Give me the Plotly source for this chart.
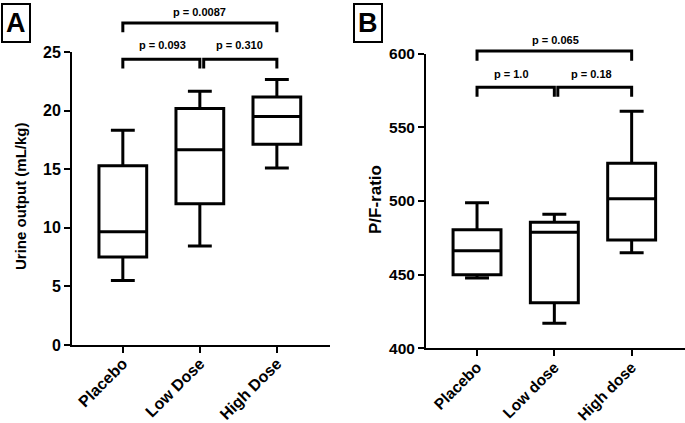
import plotly.graph_objects as go

# ---------------- data ----------------
cats_a = ["Placebo", "Low Dose", "High Dose"]
urine_min = [5.5, 8.45, 15.1]
urine_q1 = [7.5, 12.05, 17.13]
urine_med = [9.67, 16.65, 19.5]
urine_q3 = [15.3, 20.17, 21.15]
urine_max = [18.33, 21.65, 22.65]

cats_b = ["Placebo", "Low dose", "High dose"]
pf_min = [447.7, 417.0, 464.9]
pf_q1 = [450.0, 431.0, 473.5]
pf_med = [466.3, 478.7, 501.6]
pf_q3 = [480.5, 485.5, 525.6]
pf_max = [498.8, 491.0, 560.9]

pvals_a = ["p = 0.0087", "p = 0.093", "p = 0.310"]
pvals_b = ["p = 0.065", "p = 1.0", "p = 0.18"]

W, H = 685, 423
FONT = "Liberation Sans, Arial, sans-serif"

# domains (paper fractions)
xdomA = [72 / W, 330 / W]
ydomA = [1 - 345 / H, 1 - 52 / H]
xdomB = [426 / W, 1.0]
ydomB = [1 - 348.3 / H, 1 - 53.7 / H]
rngA = [0, 25]
rngB = [400, 600]
xr = [-0.66, 2.69]


def to_paper(v, rng, dom):
    return dom[0] + (v - rng[0]) / (rng[1] - rng[0]) * (dom[1] - dom[0])


fig = go.Figure()
for i in range(3):
    fig.add_trace(go.Box(
        x=[i], q1=[urine_q1[i]], median=[urine_med[i]], q3=[urine_q3[i]],
        lowerfence=[urine_min[i]], upperfence=[urine_max[i]],
        width=0.62, whiskerwidth=0.5, boxpoints=False,
        line=dict(color="black", width=3), fillcolor="white",
        xaxis="x", yaxis="y", showlegend=False, hoverinfo="skip"))
    fig.add_trace(go.Box(
        x=[i], q1=[pf_q1[i]], median=[pf_med[i]], q3=[pf_q3[i]],
        lowerfence=[pf_min[i]], upperfence=[pf_max[i]],
        width=0.62, whiskerwidth=0.5, boxpoints=False,
        line=dict(color="black", width=3), fillcolor="white",
        xaxis="x2", yaxis="y2", showlegend=False, hoverinfo="skip"))


def tf(size):
    return dict(family=FONT, size=size, color="black", weight="bold")


axis_common = dict(showline=True, linewidth=2, linecolor="black", ticks="outside",
                   ticklen=6, tickwidth=2, tickcolor="black", showgrid=False,
                   zeroline=False, fixedrange=True, automargin=False)

fig.update_layout(
    width=W, height=H, margin=dict(l=0, r=0, t=0, b=0),
    paper_bgcolor="white", plot_bgcolor="white",
    xaxis=dict(domain=xdomA, range=xr, tickvals=[0, 1, 2], ticktext=cats_a,
               tickangle=-45, anchor="y", tickfont=tf(16),
               ticklabelstandoff=-5, **axis_common),
    yaxis=dict(domain=ydomA, range=rngA, dtick=5, anchor="x", tickfont=tf(16),
               **axis_common),
    xaxis2=dict(domain=xdomB, range=xr, tickvals=[0, 1, 2], ticktext=cats_b,
                tickangle=-45, anchor="y2", tickfont=tf(15.5),
                ticklabelstandoff=-4, **axis_common),
    yaxis2=dict(domain=ydomB, range=rngB, dtick=50, anchor="x2", tickfont=tf(15.5),
                **axis_common),
)

shapes = []
annots = []


def bracket(xref, x0, x1, ytop, yleg, rng, dom):
    yt = to_paper(ytop, rng, dom)
    yl = to_paper(yleg, rng, dom)
    shapes.append(dict(type="path", xref=xref, yref="paper",
                       path=f"M {x0},{yl} L {x0},{yt} L {x1},{yt} L {x1},{yl}",
                       line=dict(color="black", width=3)))


def ptext(xref, x, y, txt, rng, dom):
    annots.append(dict(xref=xref, yref="paper", x=x, y=to_paper(y, rng, dom),
                       text=txt, showarrow=False, xanchor="center", yanchor="middle",
                       font=tf(11)))


# Panel A brackets
bracket("x", 0, 2, 27.47, 26.68, rngA, ydomA)
bracket("x", 0, 1, 24.38, 23.6, rngA, ydomA)
bracket("x", 1.05, 2, 24.38, 23.6, rngA, ydomA)
ptext("x", 1.0, 28.39, pvals_a[0], rngA, ydomA)
ptext("x", 0.52, 25.58, pvals_a[1], rngA, ydomA)
ptext("x", 1.52, 25.58, pvals_a[2], rngA, ydomA)

# Panel B brackets
bracket("x2", 0, 2, 601.8, 595.2, rngB, ydomB)
bracket("x2", 0, 1, 577.2, 570.8, rngB, ydomB)
bracket("x2", 1.045, 2, 577.2, 570.8, rngB, ydomB)
ptext("x2", 1.01, 609.3, pvals_b[0], rngB, ydomB)
ptext("x2", 0.45, 586.2, pvals_b[1], rngB, ydomB)
ptext("x2", 1.48, 586.2, pvals_b[2], rngB, ydomB)

# axis titles
annots.append(dict(xref="paper", yref="paper", x=20 / W, y=1 - 197 / H,
                   text="Urine output (mL/kg)", textangle=-90, showarrow=False,
                   xanchor="center", yanchor="middle", font=tf(15)))
annots.append(dict(xref="paper", yref="paper", x=375 / W, y=1 - 200 / H,
                   text="P/F-ratio", textangle=-90, showarrow=False,
                   xanchor="center", yanchor="middle", font=tf(17)))

# panel letters
for letter, xc in (("A", 16), ("B", 368)):
    annots.append(dict(xref="paper", yref="paper", x=xc / W, y=1 - 23 / H,
                       text=letter, showarrow=False, xanchor="center", yanchor="middle",
                       bordercolor="black", borderwidth=2, borderpad=3, bgcolor="white",
                       font=tf(27)))

fig.update_layout(shapes=shapes, annotations=annots)
fig.write_html("out.html", config={"displayModeBar": False},
               post_script="document.body.style.margin='0px';")
